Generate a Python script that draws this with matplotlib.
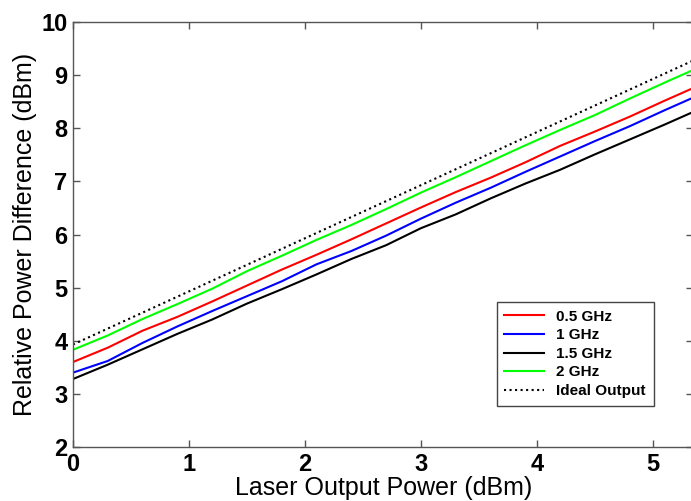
import matplotlib
matplotlib.use('Agg')
import matplotlib.pyplot as plt

plt.rcParams['font.family'] = ['Liberation Sans', 'DejaVu Sans']

# laser output power (dBm)
power = [0, 0.3, 0.6, 0.9, 1.2, 1.5, 1.8, 2.1, 2.4, 2.7, 3.0, 3.3, 3.6, 3.9, 4.2, 4.5, 4.8, 5.1, 5.4]

# relative power difference (dBm) per modulation frequency
f05 = [3.60, 3.87, 4.19, 4.45, 4.74, 5.04, 5.34, 5.62, 5.91, 6.21, 6.51, 6.80, 7.07, 7.36, 7.67, 7.94, 8.22, 8.52, 8.81]
f1 = [3.40, 3.62, 3.96, 4.27, 4.56, 4.84, 5.12, 5.44, 5.69, 5.98, 6.30, 6.60, 6.88, 7.18, 7.47, 7.76, 8.04, 8.34, 8.63]
f15 = [3.28, 3.55, 3.84, 4.13, 4.40, 4.70, 4.97, 5.25, 5.54, 5.80, 6.12, 6.38, 6.68, 6.96, 7.22, 7.51, 7.79, 8.07, 8.36]
f2 = [3.83, 4.10, 4.41, 4.69, 4.98, 5.31, 5.60, 5.90, 6.18, 6.48, 6.79, 7.08, 7.38, 7.68, 7.97, 8.25, 8.56, 8.86, 9.15]
ideal = [3.93, 4.23, 4.53, 4.83, 5.13, 5.43, 5.73, 6.03, 6.33, 6.63, 6.93, 7.23, 7.53, 7.83, 8.13, 8.43, 8.73, 9.03, 9.33]

fig = plt.figure(figsize=(6.91, 5.01), dpi=100)
ax = fig.add_axes([0.1056, 0.1078, 0.898, 0.848])

ax.plot(power, f05, color='#ff0000', lw=1.5, label='0.5 GHz')
ax.plot(power, f1, color='#0000ff', lw=1.5, label='1 GHz')
ax.plot(power, f15, color='black', lw=1.5, label='1.5 GHz')
ax.plot(power, f2, color='#00ff00', lw=1.5, label='2 GHz')
ax.plot(power, ideal, color='black', lw=1.5, ls=':', label='Ideal Output')

ax.set_xlim(0, 5.35)
ax.set_ylim(2, 10)
ax.set_xticks([0, 1, 2, 3, 4, 5])
ax.set_yticks([2, 3, 4, 5, 6, 7, 8, 9, 10])

for s in ax.spines.values():
    s.set_color('#555555')
    s.set_linewidth(1.0)
ax.tick_params(direction='in', length=5, width=1, color='#555555',
               top=True, right=True, labelsize=17)
ax.tick_params(axis='y', pad=4)
ax.tick_params(axis='x', pad=4)
for lab in ax.get_xticklabels() + ax.get_yticklabels():
    lab.set_fontweight('bold')

ax.set_xlabel('Laser Output Power (dBm)', fontsize=18, labelpad=0)
ax.set_ylabel('Relative Power Difference (dBm)', fontsize=18, labelpad=3)

leg = ax.legend(loc='upper left', bbox_to_anchor=(0.719, 0.397),
                bbox_transform=fig.transFigure, fancybox=False,
                borderaxespad=0,
                prop={'weight': 'bold', 'size': 11}, handlelength=2.6,
                labelspacing=0.3, borderpad=0.5, framealpha=1)
leg.get_frame().set_edgecolor('#444444')
leg.get_frame().set_linewidth(1.0)

fig.savefig('out.png', dpi=100)
